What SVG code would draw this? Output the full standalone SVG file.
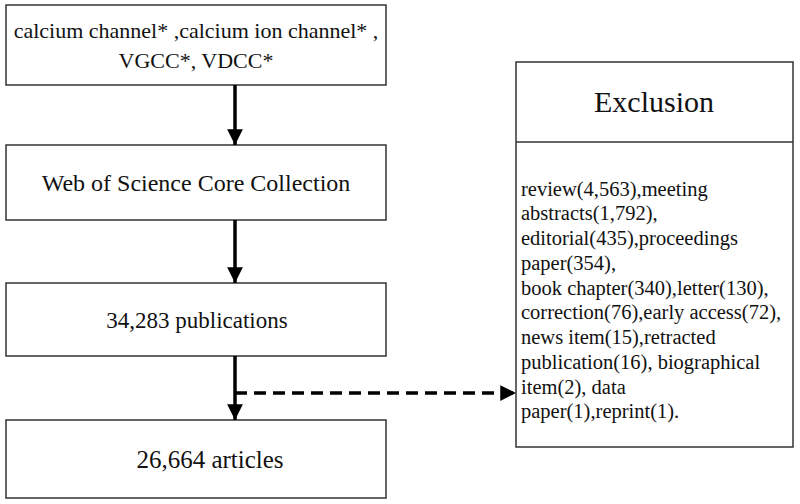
<svg xmlns="http://www.w3.org/2000/svg" width="800" height="504" viewBox="0 0 800 504">
<defs>
<style>
.box{fill:#fff;stroke:#333;stroke-width:1.5}
.t{font-family:"Liberation Serif",serif;font-size:22px;fill:#111;text-anchor:middle}
.s{font-family:"Liberation Serif",serif;font-size:20.5px;fill:#111}
.ln{stroke:#000;stroke-width:3.5;fill:none}
</style>
<marker id="ah" viewBox="0 0 10 10" refX="10" refY="5" markerWidth="4.5" markerHeight="4.5" markerUnits="strokeWidth" orient="auto"><path d="M0,0L10,5L0,10z" fill="#000"/></marker>
</defs>
<rect width="800" height="504" fill="#fff"/>
<g id="n1"><rect class="box" x="6" y="5" width="380" height="80"/>
<text class="t" x="196" y="38">calcium channel* ,calcium ion channel* ,</text>
<text class="t" x="196" y="68">VGCC*, VDCC*</text></g>
<g id="n2"><rect class="box" x="6" y="145" width="380" height="75"/>
<text class="t" x="196" y="191" style="font-size:24px">Web of Science Core Collection</text></g>
<g id="n3"><rect class="box" x="6" y="283" width="380" height="73"/>
<text class="t" x="197" y="328" style="font-size:23px">34,283 publications</text></g>
<g id="n4"><rect class="box" x="6" y="420" width="380" height="78"/>
<text class="t" x="210" y="468" style="font-size:25px">26,664 articles</text></g>
<g id="ex"><rect class="box" x="516" y="62" width="277" height="385"/>
<line x1="516" y1="142" x2="793" y2="142" stroke="#333" stroke-width="1.5"/>
<text class="t" x="654" y="112" style="font-size:30px">Exclusion</text>
<text class="s" x="521" y="196">review(4,563),meeting</text>
<text class="s" x="521" y="220">abstracts(1,792),</text>
<text class="s" x="521" y="245">editorial(435),proceedings</text>
<text class="s" x="521" y="270">paper(354),</text>
<text class="s" x="521" y="295">book chapter(340),letter(130),</text>
<text class="s" x="521" y="319">correction(76),early access(72),</text>
<text class="s" x="521" y="344">news item(15),retracted</text>
<text class="s" x="521" y="369">publication(16),  biographical</text>
<text class="s" x="521" y="394">item(2), data</text>
<text class="s" x="521" y="418">paper(1),reprint(1).</text></g>
<g id="connectors">
<line class="ln" x1="235" y1="85" x2="235" y2="145" marker-end="url(#ah)"/>
<line class="ln" x1="235" y1="220" x2="235" y2="283" marker-end="url(#ah)"/>
<line class="ln" x1="235" y1="356" x2="235" y2="420" marker-end="url(#ah)"/>
<line class="ln" x1="235" y1="393" x2="516" y2="393" stroke-dasharray="12,7" marker-end="url(#ah)"/>
</g>
</svg>
